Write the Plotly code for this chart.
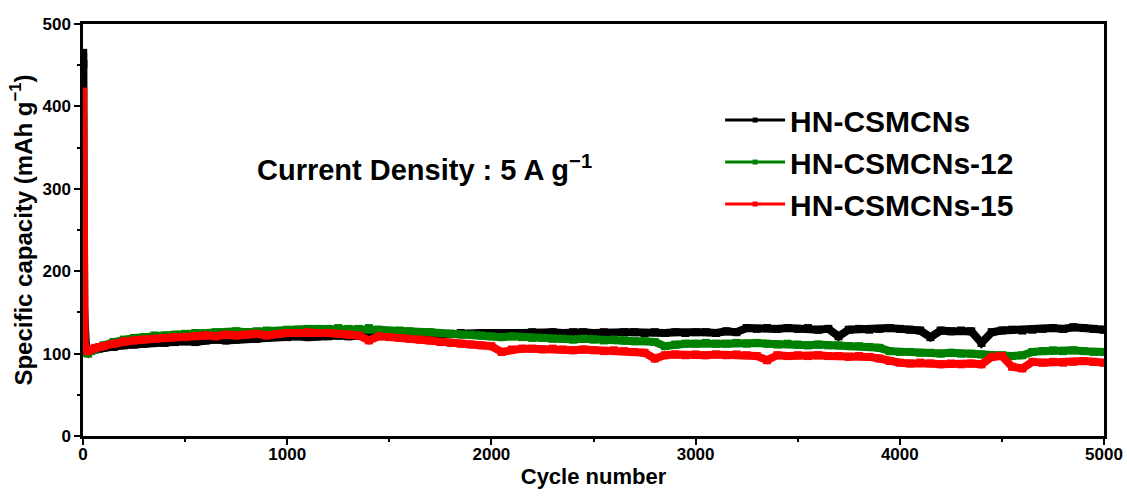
import plotly.graph_objects as go

cycles = [1, 2, 4, 8, 15, 25, 40, 60, 80] + list(range(100, 5001, 50))

hn_csmcns = [465, 452, 160, 118, 108, 105, 104, 105, 106,
             107, 108, 110, 111, 112, 113, 113, 114, 115, 114,
             116, 117, 116, 117, 118, 118, 119, 120, 120, 121,
             120, 121, 121, 122, 121, 122, 122, 122, 123, 122,
             123, 123, 124, 123, 124, 125, 124, 125, 125, 124,
             125, 125, 126, 125, 126, 125, 126, 126, 125, 126,
             125, 126, 126, 125, 126, 125, 126, 125, 126, 126,
             125, 127, 126, 131, 130, 131, 130, 131, 130, 131,
             129, 130, 121, 129, 130, 129, 130, 131, 130, 129,
             128, 120, 128, 127, 128, 127, 113, 126, 128, 129,
             128, 129, 130, 131, 130, 132, 131, 130, 129]

hn_csmcns_12 = [386, 140, 112, 104, 101, 100, 103, 106, 108,
                110, 114, 117, 119, 120, 122, 122, 123, 124, 125,
                125, 126, 126, 127, 126, 127, 128, 127, 129, 129,
                130, 130, 130, 131, 130, 130, 131, 129, 128, 128,
                127, 126, 126, 125, 124, 123, 123, 122, 121, 120,
                121, 120, 119, 119, 118, 118, 117, 118, 117, 116,
                117, 116, 115, 115, 114, 109, 111, 112, 112, 113,
                112, 112, 113, 112, 113, 112, 111, 112, 111, 110,
                111, 110, 110, 109, 109, 108, 107, 103, 102, 102,
                101, 101, 100, 101, 100, 100, 99, 98, 98, 97,
                98, 102, 103, 104, 103, 104, 103, 102, 102]

hn_csmcns_15 = [418, 153, 118, 108, 104, 103, 105, 107, 108,
                109, 112, 115, 116, 117, 118, 119, 120, 120, 121,
                122, 121, 123, 122, 123, 124, 122, 124, 125, 125,
                126, 125, 125, 124, 123, 122, 116, 121, 120, 119,
                118, 117, 116, 114, 113, 112, 111, 110, 109, 102,
                105, 106, 106, 105, 106, 105, 104, 105, 104, 103,
                104, 103, 102, 101, 94, 98, 99, 98, 99, 98,
                99, 98, 99, 98, 97, 92, 98, 97, 98, 97,
                98, 97, 97, 96, 97, 96, 94, 91, 89, 88,
                89, 88, 87, 88, 87, 88, 87, 96, 97, 84,
                82, 90, 89, 90, 89, 90, 91, 90, 89]

series_names = ["HN-CSMCNs", "HN-CSMCNs-12", "HN-CSMCNs-15"]
series_values = [hn_csmcns, hn_csmcns_12, hn_csmcns_15]
series_colors = ["#000000", "#008000", "#ff0000"]

x_ticks = [0, 1000, 2000, 3000, 4000, 5000]
y_ticks = [0, 100, 200, 300, 400, 500]

fig = go.Figure()
for name, vals, col in zip(series_names, series_values, series_colors):
    fig.add_trace(go.Scatter(
        x=cycles, y=vals, mode="lines+markers", name=name,
        line=dict(color=col, width=8),
        marker=dict(symbol="square", size=8, color=col),
        showlegend=False,
    ))
for name, col in zip(series_names, series_colors):
    fig.add_trace(go.Scatter(
        x=[None], y=[None], mode="lines+markers", name=name,
        line=dict(color=col, width=3),
        marker=dict(symbol="square", size=5, color=col),
    ))

bold = dict(family="Arial, Liberation Sans, sans-serif", color="black", weight="bold")

fig.update_layout(
    width=1127, height=497,
    margin=dict(l=83, r=23, t=24, b=61, autoexpand=False),
    paper_bgcolor="white", plot_bgcolor="white",
    showlegend=True,
    legend=dict(x=0.624, y=0.83, xanchor="left", yanchor="top",
                font=dict(size=30, **bold), bgcolor="rgba(0,0,0,0)",
                tracegroupgap=0, itemwidth=60),
    annotations=[dict(
        text="Current Density : 5 A g<sup>−1</sup>", xref="paper", yref="paper",
        x=0.334, y=0.650, showarrow=False, xanchor="center", yanchor="middle",
        font=dict(size=29, **bold))],
)
fig.update_xaxes(
    automargin=False,
    range=[0, 5000], tickvals=x_ticks, ticks="outside", ticklen=6, tickwidth=2,
    tickcolor="black", showline=True, linecolor="black", linewidth=2.5, mirror=True,
    showgrid=False, zeroline=False, ticklabelstandoff=-5,
    tickfont=dict(size=17, **bold),
    minor=dict(dtick=500, ticks="outside", ticklen=3, tickwidth=2, tickcolor="black"),
    title=dict(text="Cycle number", font=dict(size=22, **bold), standoff=6),
)
fig.update_yaxes(
    automargin=False,
    range=[0, 500], tickvals=y_ticks, ticks="outside", ticklen=6, tickwidth=2,
    tickcolor="black", showline=True, linecolor="black", linewidth=2.5, mirror=True,
    showgrid=False, zeroline=False,
    tickfont=dict(size=17, **bold),
    minor=dict(dtick=50, ticks="outside", ticklen=3, tickwidth=2, tickcolor="black"),
    title=dict(text="Specific capacity (mAh g<sup>−1</sup>)", font=dict(size=24, **bold), standoff=4),
)

fig.write_html("out.html")
